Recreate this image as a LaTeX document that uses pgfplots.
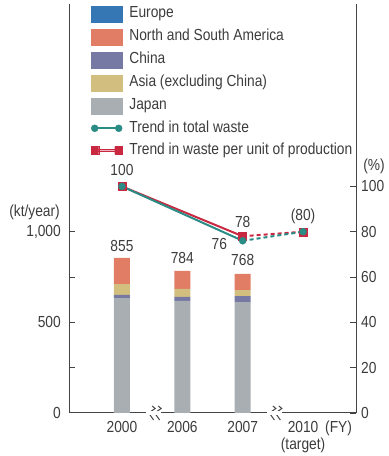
\documentclass[border=0pt]{standalone}
\usepackage{pgfplots}
\pgfplotsset{compat=1.18}
\usepackage{fontspec}
\setmainfont{Liberation Sans}[FakeStretch=0.86]
\definecolor{eur}{HTML}{3576B5}
\definecolor{ame}{HTML}{E07D64}
\definecolor{chi}{HTML}{7679A3}
\definecolor{asi}{HTML}{D2BF7F}
\definecolor{jap}{HTML}{A9AEB2}
\definecolor{tea}{HTML}{2A8C85}
\definecolor{red1}{HTML}{C82840}
\definecolor{txt}{HTML}{3C3C3C}
\definecolor{axc}{HTML}{444444}
\begin{document}
\fontsize{16bp}{19bp}\selectfont
\begin{tikzpicture}[text=txt]
\path[use as bounding box] (0,0) rectangle (389bp,456bp);
\begin{axis}[
 at={(69bp,43bp)}, anchor=south west,
 scale only axis, width=287bp, height=409bp,
 xmin=-0.877, xmax=3.877, ymin=0, ymax=2256,
 axis x line*=bottom, axis y line*=left,
 axis line style={axc, line width=1bp, -},
 ybar stacked, bar width=16bp,
 xtick={0,1,2,3}, xticklabels={2000,2006,2007,2010},
 x tick style={draw=none},
 xticklabel style={inner sep=0pt, yshift=-8.5bp, anchor=north},
 ytick={0,500,1000}, minor ytick={250,750},
 y tick style={axc, line width=1bp},
 tick align=inside, major tick length=6bp, minor tick length=6bp,
 yticklabel style={inner sep=0pt, xshift=-8bp, anchor=east},
 /pgf/number format/assume math mode=true,
 /pgf/number format/1000 sep={,},
 clip=false,
]
\addplot[fill=jap, draw=none] coordinates {(0,634) (1,618) (2,612)};
\addplot[fill=chi, draw=none] coordinates {(0,17) (1,22) (2,33)};
\addplot[fill=asi, draw=none] coordinates {(0,60) (1,44) (2,33)};
\addplot[fill=ame, draw=none] coordinates {(0,144) (1,100) (2,90)};
\addplot[fill=eur, draw=none] coordinates {(0,0) (1,0) (2,0)};
% axis breaks
\fill[white, shift={(axis cs:0.5,0)}] (-6bp,-2bp) rectangle (9bp,2bp);
\draw[axc, line width=1bp, shift={(axis cs:0.5,0)}] (0bp,7bp) -- (3bp,4.5bp) -- (-3.5bp,0bp) -- (1.5bp,-7bp);
\draw[axc, line width=1bp, shift={(axis cs:0.5,0)}] (6bp,7bp) -- (9bp,4.5bp) -- (2.5bp,0bp) -- (7.5bp,-7bp);
\fill[white, shift={(axis cs:2.5,0)}] (-6bp,-2bp) rectangle (9bp,2bp);
\draw[axc, line width=1bp, shift={(axis cs:2.5,0)}] (0bp,7bp) -- (3bp,4.5bp) -- (-3.5bp,0bp) -- (1.5bp,-7bp);
\draw[axc, line width=1bp, shift={(axis cs:2.5,0)}] (6bp,7bp) -- (9bp,4.5bp) -- (2.5bp,0bp) -- (7.5bp,-7bp);
\end{axis}
\begin{axis}[
 at={(69bp,43bp)}, anchor=south west,
 scale only axis, width=287bp, height=409bp,
 xmin=-0.877, xmax=3.877, ymin=0, ymax=180.5,
 axis x line=none, axis y line*=right,
 axis line style={axc, line width=1bp, -},
 ytick={0,20,40,60,80,100},
 y tick style={axc, line width=1bp},
 tick align=inside, major tick length=6bp,
 yticklabel style={inner sep=0pt, xshift=5bp, anchor=west},
 /pgf/number format/assume math mode=true,
 clip=false,
 legend style={at={(0.0767,0.995)}, anchor=north west, draw=none, fill=none,
   inner sep=0pt, outer sep=0pt, row sep=6.5bp, column sep=7bp,
   nodes={inner sep=0pt, text height=11.5bp, text depth=4bp}},
 legend cell align=left,
]
\addlegendimage{legend image code/.code={\fill[eur] (0bp,-8bp) rectangle (31bp,8bp);}}
\addlegendimage{legend image code/.code={\fill[ame] (0bp,-8bp) rectangle (31bp,8bp);}}
\addlegendimage{legend image code/.code={\fill[chi] (0bp,-8bp) rectangle (31bp,8bp);}}
\addlegendimage{legend image code/.code={\fill[asi] (0bp,-8bp) rectangle (31bp,8bp);}}
\addlegendimage{legend image code/.code={\fill[jap] (0bp,-8bp) rectangle (31bp,8bp);}}
\addlegendimage{legend image code/.code={\draw[tea, line width=2bp] (3.5bp,0bp) -- (27.5bp,0bp); \fill[tea] (3.5bp,0bp) circle (3.5bp) (27.5bp,0bp) circle (3.5bp);}}
\addlegendimage{legend image code/.code={\draw[red1, line width=3.5bp] (3.5bp,0bp) -- (27.5bp,0bp); \draw[red1!35!white, line width=1.2bp] (7bp,0bp) -- (24bp,0bp); \fill[red1] (0bp,-3.75bp) rectangle (7.5bp,3.75bp) (23.5bp,-3.75bp) rectangle (31bp,3.75bp);}}
\legend{Europe, North and South America, China, Asia (excluding China), Japan, Trend in total waste, Trend in waste per unit of production}
% waste per unit of production
\addplot[red1, line width=2bp, forget plot] coordinates {(0,100) (2,78)};
\addplot[red1, line width=2bp, dash pattern=on 4bp off 3bp, forget plot] coordinates {(2,78) (3,80)};
\addplot[red1, only marks, mark=square*, mark size=4bp, forget plot] coordinates {(0,100) (2,78) (3,80)};
% total waste
\addplot[tea, line width=2bp, forget plot] coordinates {(0,100) (2,76)};
\addplot[tea, line width=2bp, dash pattern=on 4bp off 3bp, forget plot] coordinates {(2,76) (3,80)};
\addplot[tea, only marks, mark=*, mark size=3.5bp, forget plot] coordinates {(0,100) (2,76) (3,80)};
% labels
\node[inner sep=0pt] at (axis cs:0,107.2) {100};
\node[inner sep=0pt] at (axis cs:2,84.4) {78};
\node[inner sep=0pt] at (axis cs:1.614,74.6) {76};
\node[inner sep=0pt] at (axis cs:3,86.9) {(80)};
\node[inner sep=0pt] at (axis cs:0,73.7) {855};
\node[inner sep=0pt] at (axis cs:1,68.4) {784};
\node[inner sep=0pt] at (axis cs:2,67.5) {768};
\node[inner sep=0pt] at (axis cs:4.175,109) {(\%)};
\node[inner sep=0pt] at (axis cs:-1.448,88.7) {(kt/year)};
\node[inner sep=0pt] at (axis cs:3.588,0) [yshift=-15bp] {(FY)};
\node[inner sep=0pt] at (axis cs:3,0) [yshift=-32bp] {(target)};
\end{axis}
\end{tikzpicture}
\end{document}
